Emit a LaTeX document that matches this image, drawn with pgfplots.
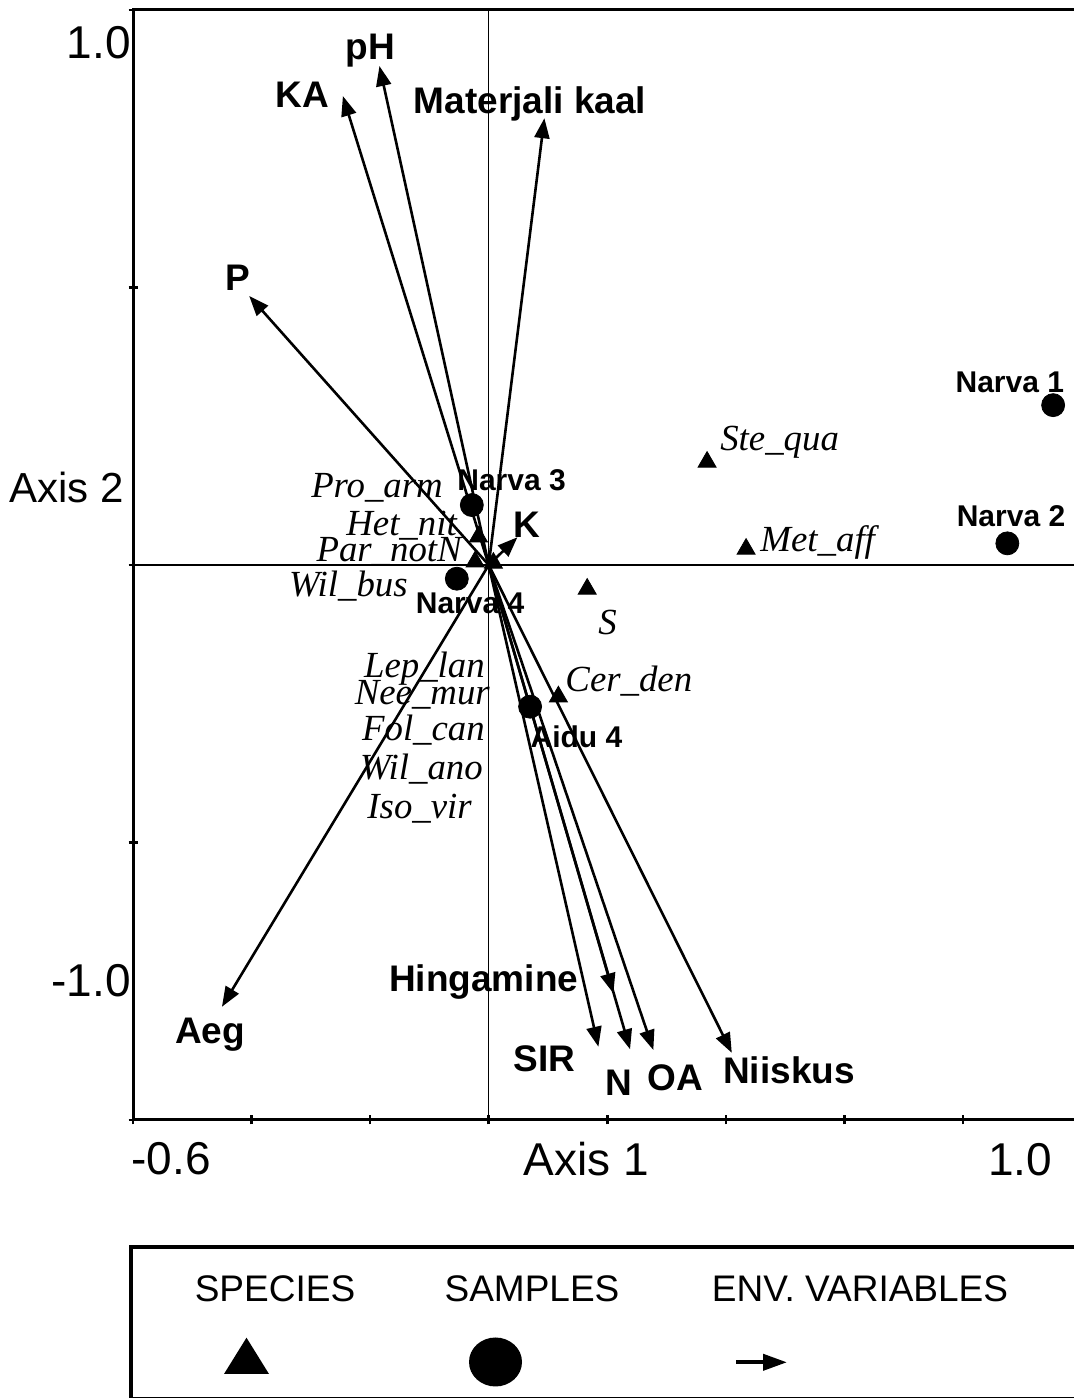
\documentclass[border=0pt]{standalone}
\usepackage{fontspec}
\setmainfont{Liberation Sans}
\newfontfamily\serifit{Liberation Serif}
\usepackage{pgfplots}
\pgfplotsset{compat=1.18}
\usetikzlibrary{arrows.meta}
\newcommand\envf{\fontsize{18.5}{20}\selectfont\bfseries}
\newcommand\samf{\fontsize{15}{17}\selectfont\bfseries}
\newcommand\spf{\fontsize{18.4}{20}\selectfont\serifit\itshape}
\newcommand\axf{\fontsize{23}{25}\selectfont}
\newcommand\legf{\fontsize{18.5}{20}\selectfont}
\begin{document}
\begin{tikzpicture}
\useasboundingbox (0pt,0pt) rectangle (536.5pt,699pt);
\begin{axis}[
  at={(66.5pt,139pt)}, anchor=south west,
  scale only axis, width=470pt, height=555pt,
  xmin=-0.6, xmax=0.98549, ymin=-1, ymax=1,
  axis line style={draw=none},
  xtick={-0.6,-0.4,-0.2,0,0.2,0.4,0.6,0.8},
  ytick={-1,-0.5,0,0.5,1},
  xticklabels={}, yticklabels={},
  xtick pos=left, ytick pos=left,
  tick align=center, major tick length=4.5pt,
  tick style={line width=1.3pt, black},
  clip=false,
  envarrow/.style={black, line width=1.3pt, -{Triangle[length=10pt,width=7.5pt]}, mark=none},
]
% frame
\draw[line width=1.5pt] (rel axis cs:1.02,1) -- (rel axis cs:0,1) -- (rel axis cs:0,0) -- (rel axis cs:1.02,0);
% zero lines
\draw[line width=0.6pt] (axis cs:0,-1) -- (axis cs:0,1);
\draw[line width=0.6pt] (axis cs:-0.6,0) -- (axis cs:1.0,0);

% environmental variables (arrows from origin)
\addplot[envarrow] coordinates {(0,0) (-0.1843,0.899)};  % pH
\addplot[envarrow] coordinates {(0,0) (-0.246,0.845)};   % KA
\addplot[envarrow] coordinates {(0,0) (0.0939,0.805)};   % Materjali kaal
\addplot[envarrow] coordinates {(0,0) (-0.404,0.4847)};  % P
\addplot[envarrow] coordinates {(0,0) (0.0484,0.050)};   % K
\addplot[envarrow] coordinates {(0,0) (-0.450,-0.796)};  % Aeg
\addplot[envarrow] coordinates {(0,0) (0.2103,-0.7717)}; % Hingamine
\addplot[envarrow] coordinates {(0,0) (0.185,-0.868)};   % SIR
\addplot[envarrow] coordinates {(0,0) (0.2384,-0.8726)}; % N
\addplot[envarrow] coordinates {(0,0) (0.2777,-0.8739)}; % OA
\addplot[envarrow] coordinates {(0,0) (0.410,-0.879)};   % Niiskus

% species
\addplot[only marks, mark=triangle*, mark size=5.2pt, black] table {
x y
0.3683 0.1856
0.4341 0.0288
0.1661 -0.0432
0.1175 -0.2373
-0.0174 0.051
-0.0229 0.006
0.0079 0.0036
};
% samples
\addplot[only marks, mark=*, mark size=5.75pt, black] table {
x y
0.952 0.288
0.8748 0.039
-0.0285 0.108
-0.0538 -0.0247
0.0698 -0.2553
};

% env labels
\node[anchor=base, inner sep=0] at (axis cs:-0.200,0.910) {\envf pH};
\node[anchor=base, inner sep=0] at (axis cs:-0.314,0.825) {\envf KA};
\node[anchor=base, inner sep=0] at (axis cs:0.0698,0.814) {\envf Materjali kaal};
\node[anchor=base, inner sep=0] at (axis cs:-0.424,0.494) {\envf P};
\node[anchor=base, inner sep=0] at (axis cs:0.064,0.050) {\envf K};
\node[anchor=base, inner sep=0] at (axis cs:-0.470,-0.863) {\envf Aeg};
\node[anchor=base, inner sep=0] at (axis cs:-0.0086,-0.769) {\envf Hingamine};
\node[anchor=base, inner sep=0] at (axis cs:0.0943,-0.913) {\envf SIR};
\node[anchor=base, inner sep=0] at (axis cs:0.2187,-0.955) {\envf N};
\node[anchor=base, inner sep=0] at (axis cs:0.3152,-0.946) {\envf OA};
\node[anchor=base, inner sep=0] at (axis cs:0.5066,-0.934) {\envf Niiskus};

% sample labels
\node[anchor=base, inner sep=0] at (axis cs:0.879,0.310) {\samf Narva 1};
\node[anchor=base, inner sep=0] at (axis cs:0.881,0.069) {\samf Narva 2};
\node[anchor=base, inner sep=0] at (axis cs:0.0386,0.135) {\samf Narva 3};
\node[anchor=base, inner sep=0] at (axis cs:-0.0314,-0.0865) {\samf Narva 4};
\node[anchor=base, inner sep=0] at (axis cs:0.148,-0.329) {\samf Aidu 4};

% species labels
\node[anchor=base east, inner sep=0] at (axis cs:-0.0768,0.1225) {\spf Pro\_arm};
\node[anchor=base east, inner sep=0] at (axis cs:-0.0533,0.054) {\spf Het\_nit};
\node[anchor=base east, inner sep=0] at (axis cs:-0.0449,0.006) {\spf Par\_notN};
\node[anchor=base east, inner sep=0] at (axis cs:-0.136,-0.057) {\spf Wil\_bus};
\node[anchor=base east, inner sep=0] at (axis cs:-0.006,-0.202) {\spf Lep\_lan};
\node[anchor=base east, inner sep=0] at (axis cs:0.0024,-0.252) {\spf Nee\_mur};
\node[anchor=base east, inner sep=0] at (axis cs:-0.006,-0.3166) {\spf Fol\_can};
\node[anchor=base east, inner sep=0] at (axis cs:-0.0094,-0.387) {\spf Wil\_ano};
\node[anchor=base east, inner sep=0] at (axis cs:-0.028,-0.456) {\spf Iso\_vir};
\node[anchor=base, inner sep=0] at (axis cs:0.2005,-0.126) {\spf S};
\node[anchor=base west, inner sep=0] at (axis cs:0.1288,-0.228) {\spf Cer\_den};
\node[anchor=base west, inner sep=0] at (axis cs:0.390,0.207) {\spf Ste\_qua};
\node[anchor=base west, inner sep=0] at (axis cs:0.4577,0.0239) {\spf Met\_aff};
\end{axis}

% axis range labels
\node[anchor=base east, inner sep=0] at (65.5pt,669.5pt) {\axf 1.0};
\node[anchor=base east, inner sep=0] at (65.5pt,200.5pt) {\axf -1.0};
\node[anchor=base west, inner sep=0] at (4.5pt,447.5pt) {\fontsize{21}{23}\selectfont Axis 2};
\node[anchor=base, inner sep=0] at (85.5pt,111.5pt) {\axf -0.6};
\node[anchor=base, inner sep=0] at (293pt,111pt) {\axf Axis 1};
\node[anchor=base, inner sep=0] at (510pt,111pt) {\axf 1.0};

% legend box
\draw[line width=2pt] (545pt,75.5pt) -- (65.5pt,75.5pt) -- (65.5pt,-0.3pt) -- (545pt,-0.3pt);
\node[anchor=base, inner sep=0] at (137.5pt,48.2pt) {\legf SPECIES};
\node[anchor=base, inner sep=0] at (266pt,48.2pt) {\legf SAMPLES};
\node[anchor=base, inner sep=0] at (430pt,48.2pt) {\legf ENV. VARIABLES};
\fill (123.25pt,30.15pt) -- (112pt,12pt) -- (134.5pt,12pt) -- cycle;
\fill (247.75pt,18pt) ellipse [x radius=13.25pt, y radius=12.25pt];
\draw[line width=2pt, -{Triangle[length=12pt,width=8pt]}] (368pt,17.85pt) -- (393.5pt,17.85pt);
\end{tikzpicture}
\end{document}
